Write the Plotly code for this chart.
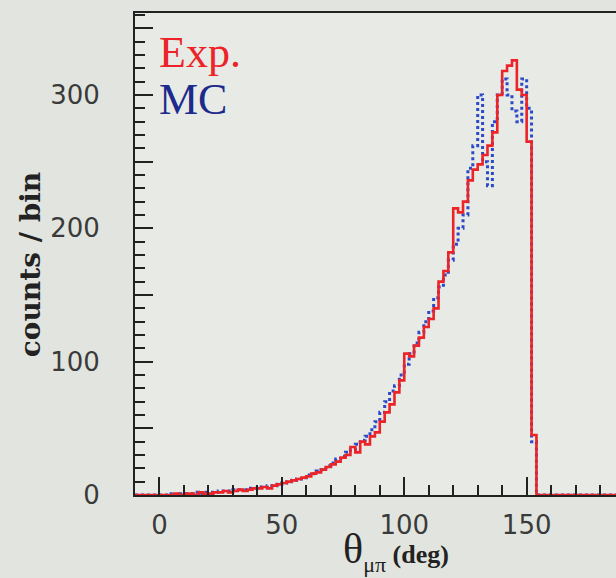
import plotly.graph_objects as go

# histogram bins (left edges, deg), 2 deg wide
BIN_START = -10
BIN_WIDTH = 2

exp_counts = [
    0, 0, 0, 0, 0,                       # -10 .. -2
    0, 0, 0, 1, 0, 1, 1, 0, 2, 1,        # 0 .. 18
    1, 2, 2, 3, 2, 3, 4, 3, 4, 5,        # 20 .. 38
    5, 6, 5, 7, 8, 9, 10, 11, 12, 13,    # 40 .. 58
    14, 16, 17, 19, 21, 23, 25, 28, 30, 36,   # 60 .. 78
    32, 40, 38, 44, 47, 55, 62, 68, 77, 86,   # 80 .. 98
    106, 104, 112, 118, 126, 132, 140, 160, 168, 182,  # 100 .. 118
    215, 212, 220, 236, 244, 248, 255, 262, 272, 300,  # 120 .. 138
    318, 322, 326, 304, 300, 265, 45, 0, 0, 0,         # 140 .. 158
    0, 0, 0, 0, 0, 0, 0, 0, 0, 0,                      # 160 .. 178
    0, 0, 0, 0,                                        # 180 .. 186
]

mc_counts = [
    0, 0, 0, 0, 0,
    0, 0, 1, 0, 1, 1, 1, 2, 1, 2,
    2, 2, 3, 3, 3, 4, 4, 4, 5, 5,
    6, 6, 7, 7, 8, 9, 10, 11, 12, 13,
    15, 16, 18, 19, 22, 24, 27, 29, 32, 34,
    38, 41, 44, 49, 55, 62, 70, 78, 82, 90,
    98, 106, 114, 122, 130, 138, 148, 156, 165, 176,
    188, 200, 210, 245, 262, 300, 250, 232, 280, 300,
    312, 300, 288, 280, 312, 290, 40, 0, 0, 0,
    0, 0, 0, 0, 0, 0, 0, 0, 0, 0,
    0, 0, 0, 0,
]

x_tickvals = [0, 50, 100, 150]
y_tickvals = [0, 50, 100, 150, 200, 250, 300, 350]
y_ticktext = ["0", "", "100", "", "200", "", "300", ""]

edges = [BIN_START + BIN_WIDTH * i for i in range(len(exp_counts) + 1)]

RED = "#ec2327"
BLUE = "#2c49c8"
TEXT = "#3a3a3a"
AXIS = "#222222"

fig = go.Figure()
fig.add_trace(go.Scatter(
    x=edges, y=mc_counts + [mc_counts[-1]],
    mode="lines", line={"color": BLUE, "width": 3, "dash": "dot", "shape": "hv"},
    name="MC",
))
fig.add_trace(go.Scatter(
    x=edges, y=exp_counts + [exp_counts[-1]],
    mode="lines", line={"color": RED, "width": 2.6, "shape": "hv"},
    name="Exp.",
))

fig.add_annotation(
    x=0.045, y=0.972, xref="paper", yref="paper", xanchor="left", yanchor="top",
    text="Exp.", showarrow=False,
    font={"family": "Liberation Serif", "size": 44, "color": RED},
)
fig.add_annotation(
    x=0.045, y=0.876, xref="paper", yref="paper", xanchor="left", yanchor="top",
    text="MC", showarrow=False,
    font={"family": "Liberation Serif", "size": 44, "color": "#1c2a8c"},
)
fig.add_annotation(
    x=0.543, y=-0.117, xref="paper", yref="paper", xanchor="center", yanchor="middle",
    text=("θ<sub><span style='font-size:22px'>μπ</span></sub>"
          "<b><span style='font-size:26px'> (deg)</span></b>"),
    showarrow=False,
    font={"family": "Liberation Serif", "size": 42, "color": "#222222"},
)
fig.add_annotation(
    x=-0.218, y=0.477, xref="paper", yref="paper", xanchor="center", yanchor="middle",
    text="<b>counts / bin</b>", textangle=-90, showarrow=False,
    font={"family": "DejaVu Serif", "size": 28, "color": "#222222"},
)

fig.update_layout(
    width=616, height=578,
    margin={"l": 135, "r": 0, "t": 13, "b": 83, "autoexpand": False},
    paper_bgcolor="#e2e5df",
    plot_bgcolor="#e7eae5",
    showlegend=False,
    font={"family": "DejaVu Sans", "size": 26, "color": TEXT},
    xaxis={
        "range": [-10, 186.5],
        "tickvals": x_tickvals,
        "ticks": "inside", "ticklen": 18, "tickwidth": 2, "tickcolor": AXIS,
        "minor": {"dtick": 10, "tick0": 0, "ticks": "inside", "ticklen": 10,
                  "tickwidth": 2, "tickcolor": AXIS, "showgrid": False},
        "showline": True, "linecolor": AXIS, "linewidth": 2, "mirror": True,
        "showgrid": False, "zeroline": False, "automargin": False,
        "ticklabelstandoff": 6,
    },
    yaxis={
        "range": [0, 361.5],
        "tickvals": y_tickvals, "ticktext": y_ticktext,
        "ticks": "inside", "ticklen": 18, "tickwidth": 2, "tickcolor": AXIS,
        "minor": {"dtick": 10, "tick0": 0, "ticks": "inside", "ticklen": 10,
                  "tickwidth": 2, "tickcolor": AXIS, "showgrid": False},
        "showline": True, "linecolor": AXIS, "linewidth": 2,
        "showgrid": False, "zeroline": False, "automargin": False,
        "ticklabelstandoff": 28,
    },
)

# drop the browser's default 8px body margin so the figure fills the window
fig.write_html(
    "out.html",
    config={"displayModeBar": False},
    post_script="document.body.style.margin = '0';",
)
